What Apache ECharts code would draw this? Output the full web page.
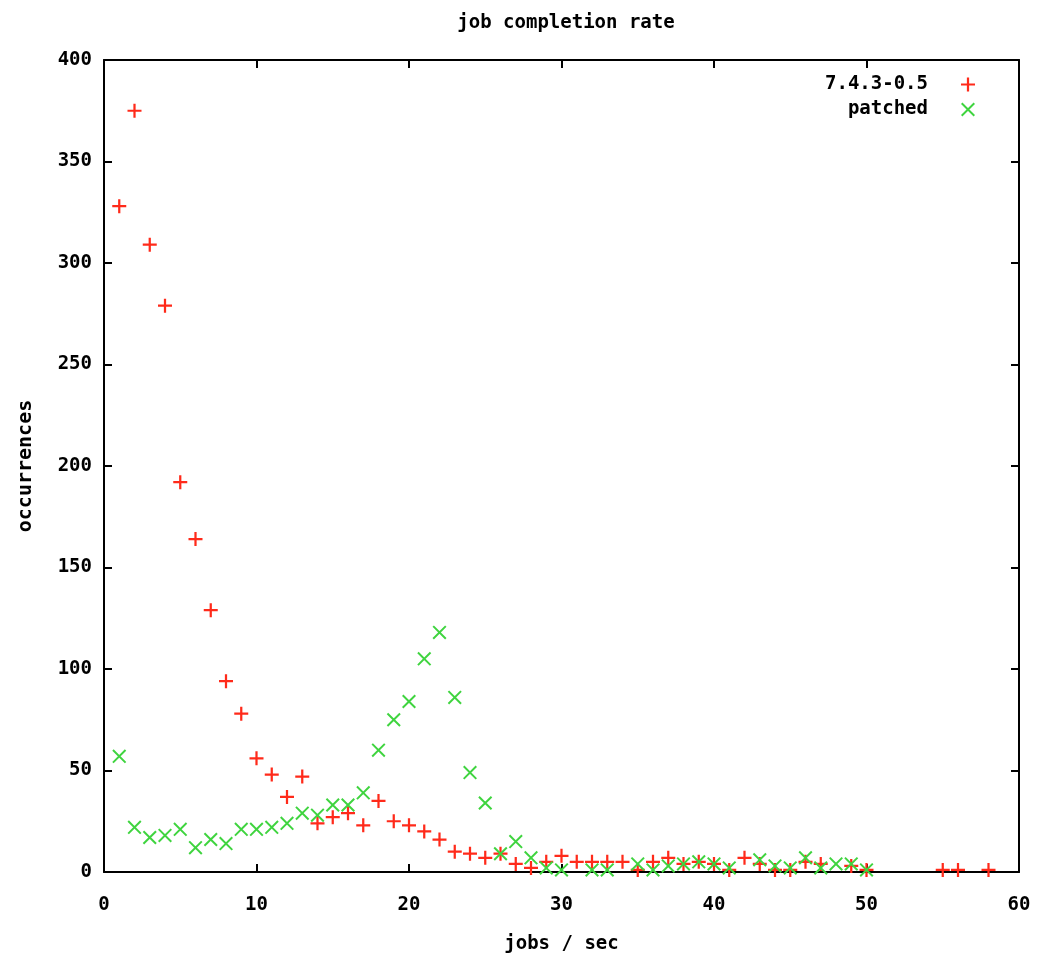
<!DOCTYPE html>
<html>
<head>
<meta charset="utf-8">
<script src="https://cdn.jsdelivr.net/npm/echarts@6/dist/echarts.min.js"></script>
<style>html,body{margin:0;padding:0;background:#fff;overflow:hidden}#c{width:1053px;height:959px}</style>
</head>
<body>
<div id="c"></div>
<script>
const titleText = 'job completion rate';
const xName = 'jobs / sec';
const yName = 'occurrences';
const seriesNames = ['7.4.3-0.5', 'patched'];
const xTicks = [0, 10, 20, 30, 40, 50, 60];
const yTicks = [0, 50, 100, 150, 200, 250, 300, 350, 400];

const redX = [1,2,3,4,5,6,7,8,9,10,11,12,13,14,15,16,17,18,19,20,21,22,23,24,25,26,27,28,29,30,31,32,33,34,35,36,37,38,39,40,41,42,43,44,45,46,47,49,50,55,56,58];
const redY = [328,375,309,279,192,164,129,94,78,56,48,37,47,24,27,29,23,35,25,23,20,16,10,9,7,9,4,2,5,8,5,5,5,5,1,5,7,4,5,4,1,7,4,1,1,5,4,3,1,1,1,1];

const greenX = [1,2,3,4,5,6,7,8,9,10,11,12,13,14,15,16,17,18,19,20,21,22,23,24,25,26,27,28,29,30,32,33,35,36,37,38,39,40,41,43,44,45,46,47,48,49,50];
const greenY = [57,22,17,18,21,12,16,14,21,21,22,24,29,28,33,33,39,60,75,84,105,118,86,49,34,9,15,7,2,1,1,1,4,1,3,4,5,4,2,6,3,2,7,2,4,4,1];

const FONT = 'DejaVu Sans Mono';
const plusPath = 'path://M4.2,0H5.8V4.2H10V5.8H5.8V10H4.2V5.8H0V4.2H4.2Z';
const crossPath = 'path://M0,1L1,0L10,9L9,10ZM0,9L9,0L10,1L1,10Z';
const red = '#ff2a1a';
const green = '#3fd43f';

const zip = (xs, ys) => xs.map((x, i) => [x, ys[i]]);

const chart = echarts.init(document.getElementById('c'), null, {renderer: 'canvas'});
const axisCommon = () => ({
  axisLine: {show: true, onZero: false, lineStyle: {color: '#000', width: 2}},
  axisTick: {show: true, inside: true, length: 8, lineStyle: {color: '#000', width: 2}},
  splitLine: {show: false}
});
const ts = (extra) => Object.assign({fontFamily: FONT, fontWeight: 'bold', fontSize: 19, color: '#000'}, extra || {});

chart.setOption({
  animation: false,
  backgroundColor: '#fff',
  title: {
    text: titleText, left: 561, top: 9, textAlign: 'center',
    textStyle: ts()
  },
  grid: {left: 104, right: 34, top: 60, bottom: 79, containLabel: false},
  legend: [
    {data: [seriesNames[0]], right: 73, top: 70, align: 'right', itemWidth: 14, itemHeight: 14,
     textStyle: ts({padding: [0, 28, 0, 0]})},
    {data: [seriesNames[1]], right: 73, top: 95, align: 'right', itemWidth: 14, itemHeight: 14,
     textStyle: ts({padding: [0, 28, 0, 0]})}
  ],
  xAxis: [
    Object.assign({
      type: 'value', min: xTicks[0], max: xTicks[xTicks.length - 1], interval: 10,
      name: xName, nameLocation: 'middle', nameGap: 63,
      nameTextStyle: ts(),
      axisLabel: ts({margin: 24})
    }, axisCommon()),
    Object.assign({
      type: 'value', position: 'top', min: xTicks[0], max: xTicks[xTicks.length - 1], interval: 10,
      axisLabel: {show: false}
    }, axisCommon())
  ],
  yAxis: [
    Object.assign({
      type: 'value', min: yTicks[0], max: yTicks[yTicks.length - 1], interval: 50,
      name: yName, nameLocation: 'middle', nameGap: 68, nameRotate: 90,
      nameTextStyle: ts({fontSize: 20}),
      axisLabel: ts({margin: 12})
    }, axisCommon()),
    Object.assign({
      type: 'value', position: 'right', min: yTicks[0], max: yTicks[yTicks.length - 1], interval: 50,
      axisLabel: {show: false}
    }, axisCommon())
  ],
  series: [
    {
      name: seriesNames[0], type: 'scatter', xAxisIndex: 0, yAxisIndex: 0,
      symbol: plusPath, symbolSize: 14, symbolKeepAspect: true,
      itemStyle: {color: red, opacity: 1},
      data: zip(redX, redY), z: 3
    },
    {
      name: seriesNames[1], type: 'scatter', xAxisIndex: 0, yAxisIndex: 0,
      symbol: crossPath, symbolSize: 14, symbolKeepAspect: true,
      itemStyle: {color: green, opacity: 1},
      data: zip(greenX, greenY), z: 4
    }
  ]
});
</script>
</body>
</html>
